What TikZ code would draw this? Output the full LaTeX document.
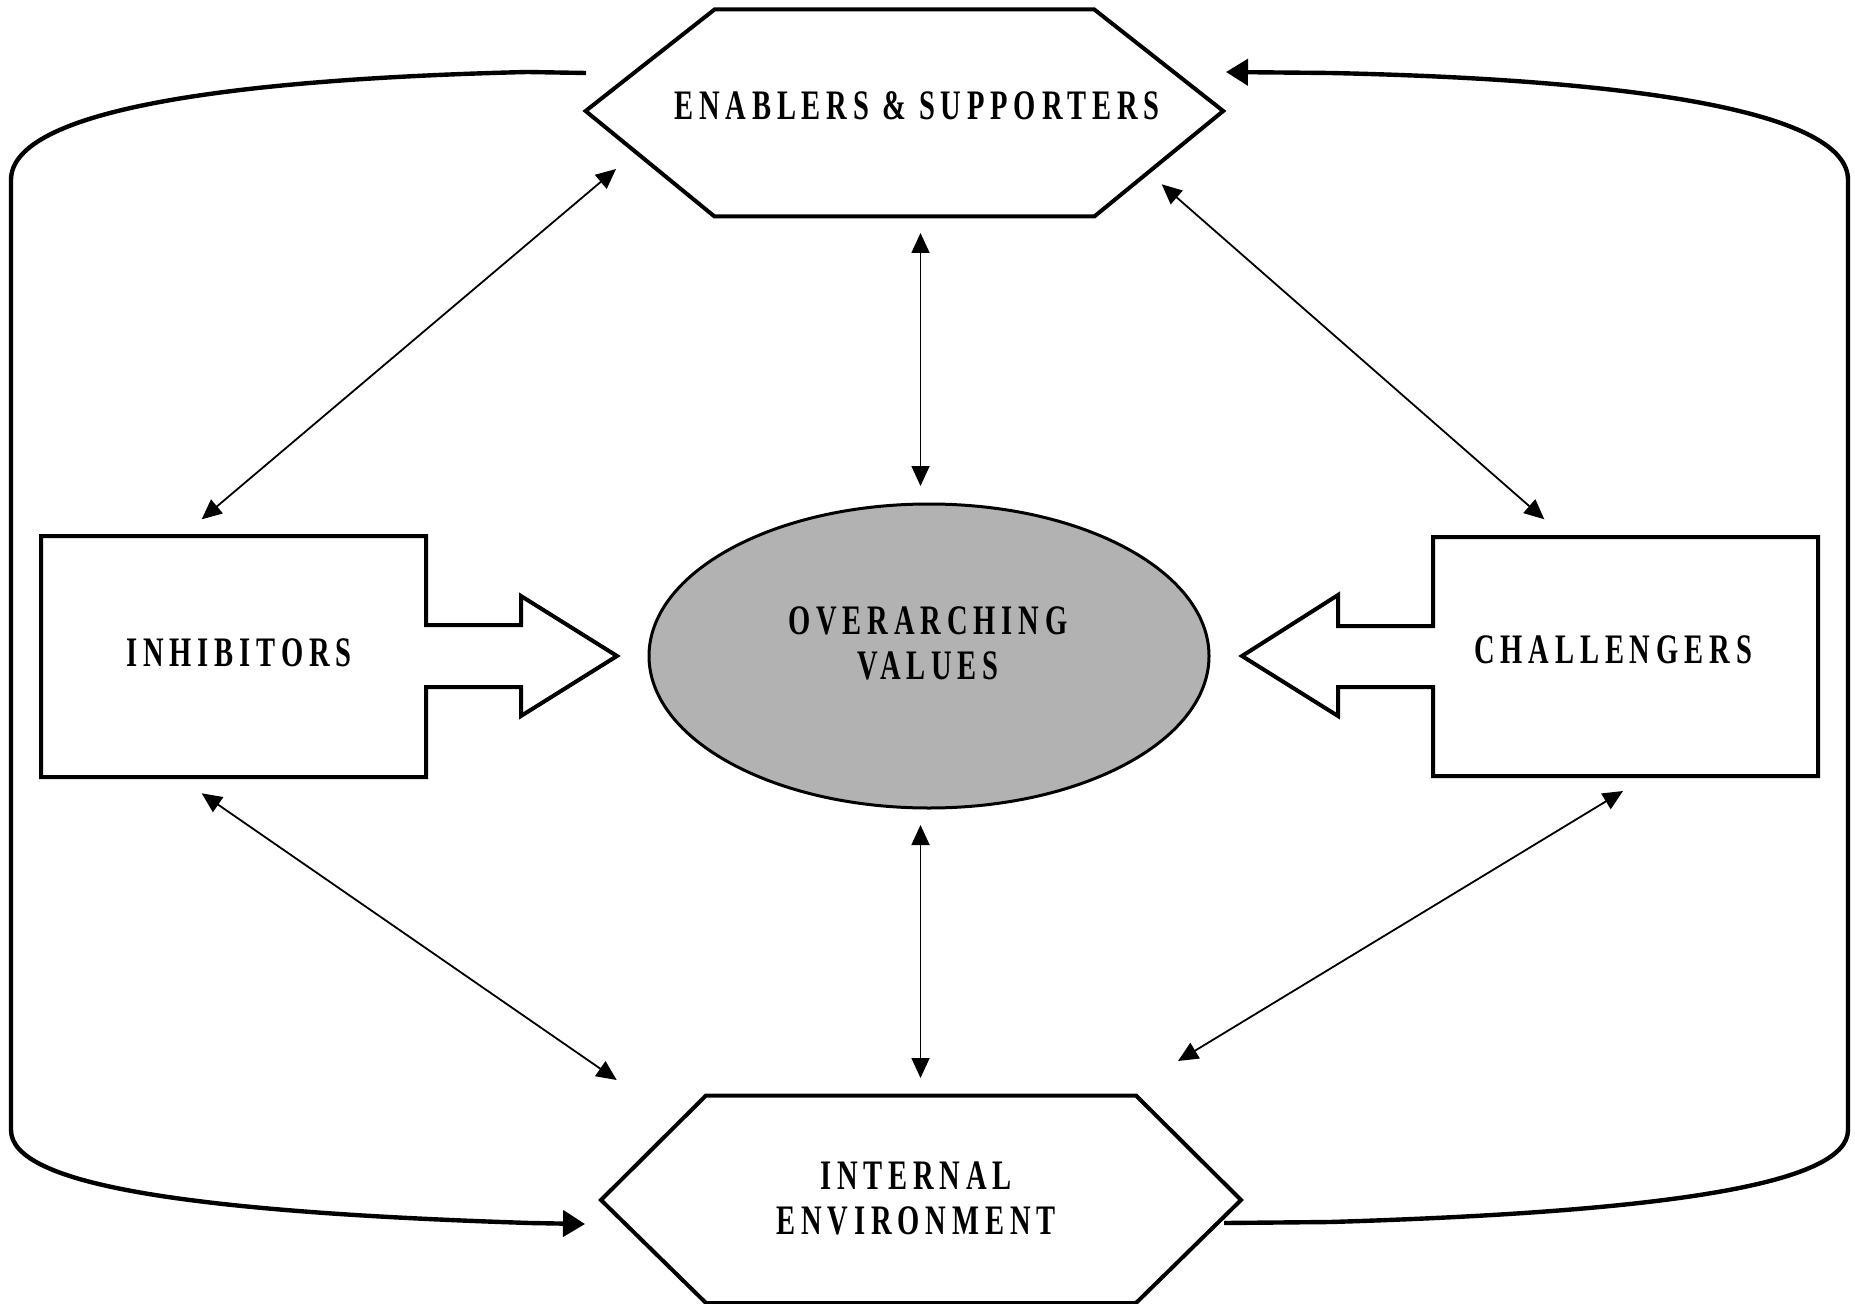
\documentclass[tikz,border=0pt]{standalone}
\usepackage{fontspec}
\newfontfamily\labfont{Liberation Serif}[FakeStretch=0.68,LetterSpace=14]
\usetikzlibrary{arrows.meta,shapes.geometric}
\begin{document}
\begin{tikzpicture}[x=0.5pt,y=-0.5pt,
  outline/.style={line width=2pt,line join=miter},
  loopline/.style={line width=2.2pt},
  looptip/.style={-{Triangle[length=11pt,width=13pt]}},
  link/.style={line width=0.9pt,{Triangle[length=10pt,width=9pt]}-{Triangle[length=10pt,width=9pt]}},
  lbl/.style={font=\labfont\bfseries\fontsize{21}{22.5}\selectfont,align=center,inner sep=0pt}]
\useasboundingbox (0,0) rectangle (1855,1304);

% shapes
\draw[outline] (585.6,111) -- (714.5,9.5) -- (1094.3,9.5) -- (1223.2,111) -- (1094.3,216.5) -- (714.5,216.5) -- cycle;
\draw[outline] (601,1200) -- (706,1095.5) -- (1136,1095.5) -- (1241,1200) -- (1136,1303) -- (706,1303) -- cycle;
\draw[outline] (41,536) -- (426,536) -- (426,625) -- (521,625) -- (521,596) -- (617,656) -- (521,716) -- (521,687) -- (426,687) -- (426,777) -- (41,777) -- cycle;
\draw[outline] (1818,537) -- (1433,537) -- (1433,626) -- (1338,626) -- (1338,595) -- (1242,656) -- (1338,716) -- (1338,687) -- (1433,687) -- (1433,776) -- (1818,776) -- cycle;
\node[ellipse,draw,line width=1.5pt,fill={rgb,255:red,178;green,178;blue,178},minimum width=280pt,minimum height=152pt,inner sep=0pt] (ov) at (929,656) {};

% labels
\node[lbl] (es) at (917,106) {ENABLERS \& SUPPORTERS};
\node[lbl] (inh) at (239,653) {INHIBITORS};
\node[lbl] (chal) at (1613,650) {CHALLENGERS};
\node[lbl] (ovt) at (928,643) {OVERARCHING\\VALUES};
\node[lbl] (ie) at (916,1198) {INTERNAL\\ENVIRONMENT};

% connector end points
\coordinate (esL) at (616,169);
\coordinate (inhT) at (201.7,519.3);
\coordinate (esR) at (1161.7,184.3);
\coordinate (chT) at (1544.3,519.3);
\coordinate (inhB) at (201.7,793.3);
\coordinate (ieL) at (616.7,1080);
\coordinate (chB) at (1623,791);
\coordinate (ieR) at (1178,1061);
\coordinate (esB) at (920.5,233);
\coordinate (ovT) at (920.5,486);
\coordinate (ovB) at (920.5,825);
\coordinate (ieT) at (920.5,1078);

\draw[link] (esL) -- (inhT);
\draw[link] (esR) -- (chT);
\draw[link] (inhB) -- (ieL);
\draw[link] (chB) -- (ieR);
\draw[link] (esB) -- (ovT);
\draw[link] (ovB) -- (ieT);

% outer loop
\coordinate (loopA) at (586,73);
\coordinate (loopB) at (585,1224);
\coordinate (loopC) at (1224,1223);
\coordinate (loopD) at (1226,72);
\draw[loopline,looptip] (loopA) -- (527,72) .. controls (200,80) and (11,115) .. (11,180) -- (11,1130) .. controls (11,1185) and (190,1212) .. (530,1223) -- (loopB);
\draw[loopline,looptip] (loopC) -- (1330,1222) .. controls (1660,1212) and (1848,1185) .. (1848,1130) -- (1848,180) .. controls (1848,115) and (1655,80) .. (1330,73) -- (loopD);
\end{tikzpicture}
\end{document}
